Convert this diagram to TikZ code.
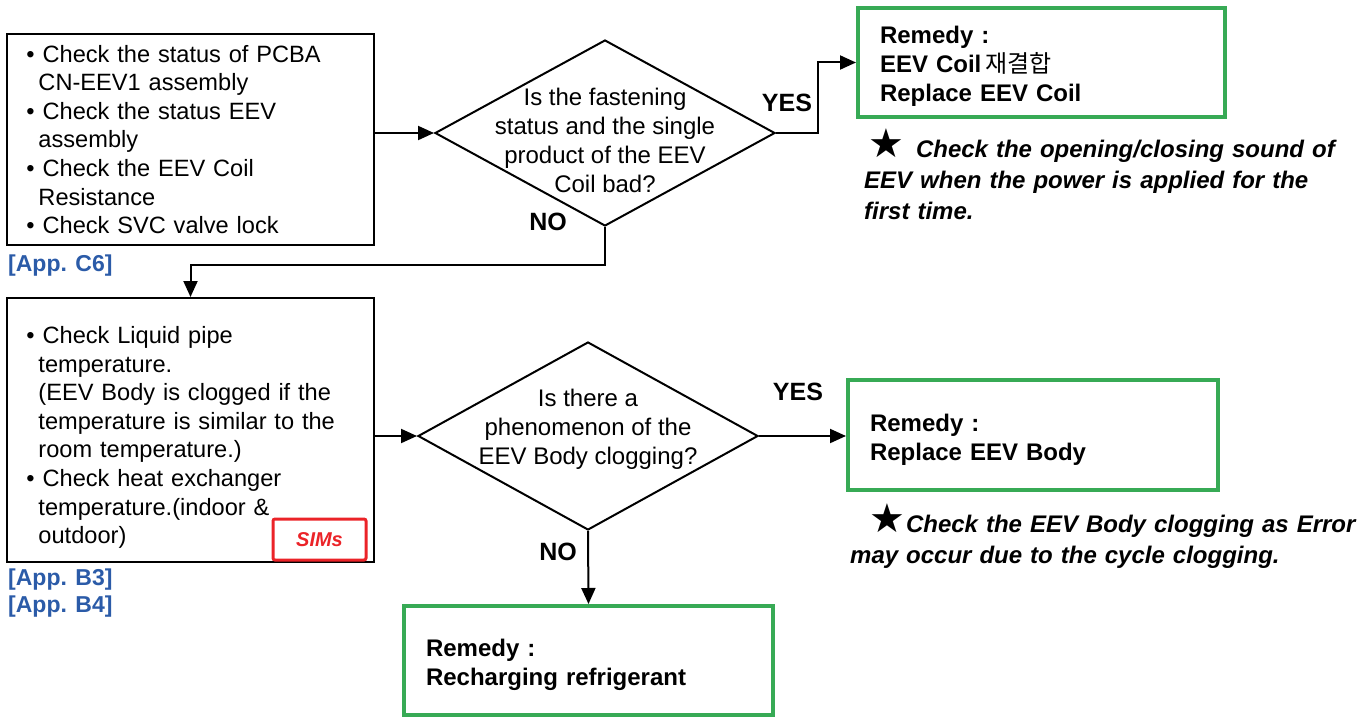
\documentclass[tikz,border=0pt]{standalone}
\usepackage{fontspec}
\setmainfont{Liberation Sans}
\newfontfamily\krfont{Noto Sans CJK KR}
\newfontfamily\symfont{DejaVu Sans}
\usetikzlibrary{shapes.geometric,arrows.meta}
\definecolor{grn}{RGB}{55,170,85}
\definecolor{appblue}{RGB}{43,91,168}
\definecolor{simred}{RGB}{235,35,40}
\begin{document}
\begin{tikzpicture}[x=1pt,y=-1pt,
  chk/.style={draw, line width=2pt, minimum width=367pt, text width=328pt, inner xsep=19.5pt, align=left,
    font=\fontsize{23.6}{28.6}\selectfont},
  rem/.style={draw=grn, line width=4pt, align=left, inner xsep=22pt,
    font=\bfseries\fontsize{24}{29}\selectfont},
  dia/.style={diamond, draw, line width=2pt, minimum width=340pt, inner sep=0pt},
  dtxt/.style={align=center, inner sep=0pt, font=\fontsize{24}{29}\selectfont},
  yn/.style={inner sep=0pt, font=\bfseries\fontsize{25}{30}\selectfont},
  app/.style={inner sep=0pt, anchor=west, text=appblue, font=\bfseries\fontsize{23}{27}\selectfont},
  note/.style={inner sep=0pt, anchor=west, align=left, font=\bfseries\itshape\fontsize{24}{31}\selectfont},
  arr/.style={line width=2pt, -{Triangle[length=16pt,width=14pt]}},
  ln/.style={line width=2pt}]
\useasboundingbox (0,0) rectangle (1369,717);

% boxes
\node[chk, minimum height=211pt] (b1) at (190.5,139.5) {%
•\ Check the status of PCBA\\
\hspace*{12pt}CN-EEV1 assembly\\
•\ Check the status EEV\\
\hspace*{12pt}assembly\\
•\ Check the EEV Coil\\
\hspace*{12pt}Resistance\\
•\ Check SVC valve lock};
\node[app] (c6) at (8,266) {[App. C6]};

\node[chk, minimum height=264pt] (b2) at (190.5,430) {%
\rule{0pt}{32pt}•\ Check Liquid pipe\\
\hspace*{12pt}temperature.\\
\hspace*{12pt}(EEV Body is clogged if the\\
\hspace*{12pt}temperature is similar to the\\
\hspace*{12pt}room temperature.)\\
•\ Check heat exchanger\\
\hspace*{12pt}temperature.(indoor \&\\
\hspace*{12pt}outdoor)};
\node[draw=simred, line width=3pt, rounded corners=2pt, minimum width=93pt, minimum height=41pt, inner sep=0pt,
  text=simred, font=\bfseries\itshape\fontsize{20}{24}\selectfont] (sims) at (319.5,539.5) {SIMs};
\node[app] (b3) at (8,580) {[App. B3]};
\node[app] (b4) at (8,607) {[App. B4]};

% diamonds
\node[dia, minimum height=186pt] (d1) at (605,133) {};
\node[dtxt] (d1t) at (605,140) {Is the fastening\\status and the single\\product of the EEV\\Coil bad?};
\node[dia, minimum height=188pt] (d2) at (588,436) {};
\node[dtxt] (d2t) at (588,429) {Is there a\\phenomenon of the\\EEV Body clogging?};

% remedies
\node[rem, minimum width=367pt, text width=323pt, minimum height=109pt] (r1) at (1041.5,62.5) {%
\rule{0pt}{25pt}Remedy :\\EEV Coil\hspace{4pt}{\mdseries\krfont\fontsize{24}{29}\selectfont 재결합}\\Replace EEV Coil};
\node[rem, minimum width=370pt, text width=326pt, minimum height=110pt] (r2) at (1033,435) {%
\rule{0pt}{27pt}Remedy :\\Replace EEV Body};
\node[rem, minimum width=369pt, text width=325pt, minimum height=109pt] (r3) at (588.5,660.5) {%
\rule{0pt}{27pt}Remedy :\\Recharging refrigerant};

% notes
\node[note, text width=490pt] (n1) at (864,174) {%
\hspace*{4pt}{\upshape\mdseries\symfont\fontsize{40}{31}\selectfont ★}\hspace{12pt}Check the opening/closing sound of\\
EEV when the power is applied for the\\
first time.};
\node[note, text width=640pt] (n2) at (850,536) {%
\hspace*{19pt}{\upshape\mdseries\symfont\fontsize{40}{31}\selectfont ★}\hspace{1pt}Check the EEV Body clogging as Error\\
may occur due to the cycle clogging.};

% yes / no labels
\node[yn] (y1) at (787,103) {YES};
\node[yn] (no1) at (548,222) {NO};
\node[yn] (y2) at (798,392) {YES};
\node[yn] (no2) at (558,552) {NO};

% connectors
\coordinate (k1) at (605,265);
\coordinate (k2) at (818,133);
\draw[arr] (d1.west -| b1.east) -- (d1.west);
\draw[arr] (d1.east) -- (k2) |- (r1.west);
\draw[arr] (d1.south) -- (k1) -| (b2.north);
\draw[arr] (d2.west -| b2.east) -- (d2.west);
\draw[arr] (d2.east) -- (d2.east -| r2.west);
\draw[arr] (d2.south) -- (r3.north);
\end{tikzpicture}
\end{document}
